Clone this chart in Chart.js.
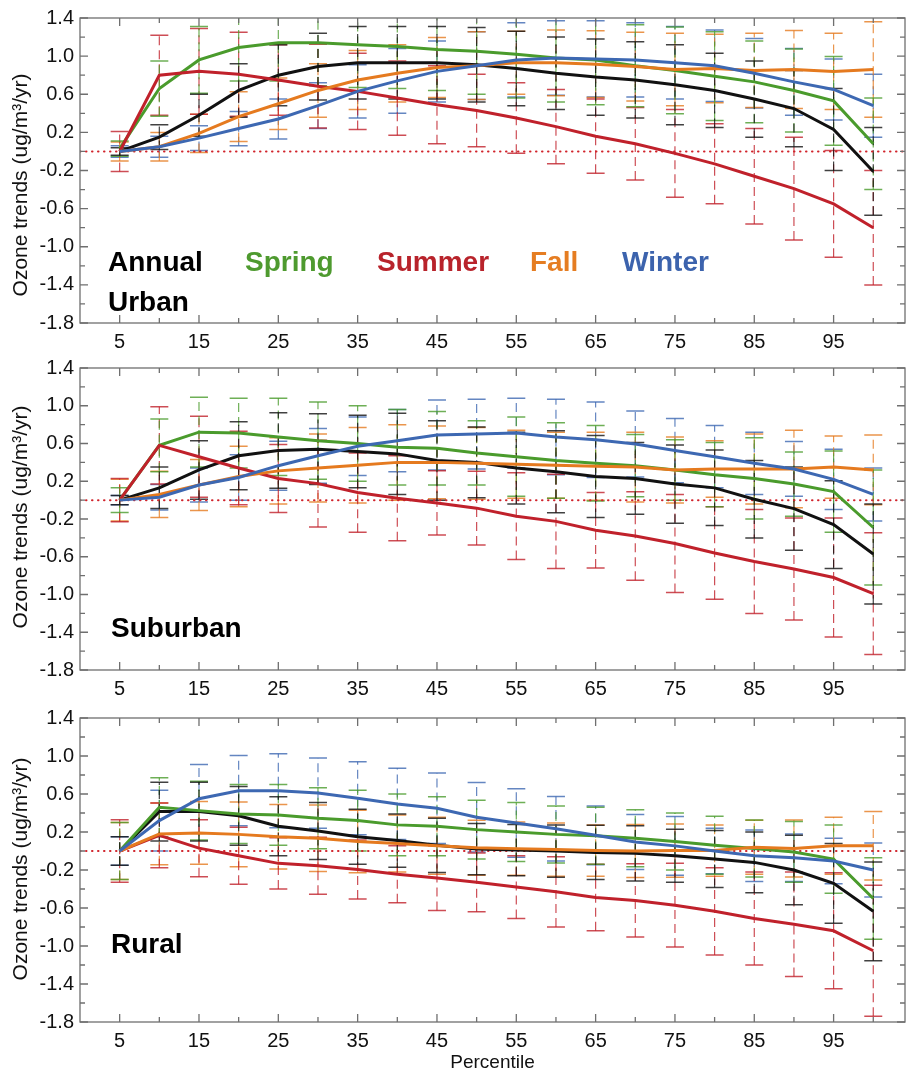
<!DOCTYPE html>
<html>
<head>
<meta charset="utf-8">
<script src="https://cdn.jsdelivr.net/npm/chart.js@4.4.1/dist/chart.umd.min.js"></script>
<style>
  body { margin: 0; background: #ffffff; }
  canvas { display: block; }
</style>
</head>
<body>
<canvas id="urban" width="907" height="350"></canvas>
<canvas id="suburban" width="907" height="350"></canvas>
<canvas id="rural" width="907" height="372"></canvas>
<script>
var percentiles = [5, 10, 15, 20, 25, 30, 35, 40, 45, 50, 55, 60, 65, 70, 75, 80, 85, 90, 95, 100];
var xTicks = [5, 15, 25, 35, 45, 55, 65, 75, 85, 95];
var yTicks = [-1.8, -1.4, -1.0, -0.6, -0.2, 0.2, 0.6, 1.0, 1.4];

// Urban: mean trends and half-length of error bars
var urbanAnnual = [0, 0.15, 0.38, 0.64, 0.80, 0.89, 0.93, 0.93, 0.93, 0.91, 0.87, 0.82, 0.78, 0.75, 0.70, 0.64, 0.55, 0.45, 0.23, -0.21];
var urbanSpring = [0.03, 0.66, 0.96, 1.09, 1.14, 1.14, 1.12, 1.10, 1.07, 1.05, 1.02, 0.98, 0.96, 0.90, 0.85, 0.79, 0.73, 0.64, 0.53, 0.08];
var urbanSummer = [0, 0.80, 0.84, 0.81, 0.75, 0.685, 0.63, 0.56, 0.49, 0.43, 0.35, 0.26, 0.16, 0.08, -0.02, -0.13, -0.26, -0.39, -0.55, -0.80];
var urbanFall = [0, 0.05, 0.19, 0.365, 0.50, 0.64, 0.75, 0.82, 0.88, 0.90, 0.93, 0.93, 0.915, 0.89, 0.86, 0.87, 0.85, 0.86, 0.84, 0.86];
var urbanWinter = [0, 0.05, 0.14, 0.24, 0.34, 0.48, 0.63, 0.74, 0.84, 0.90, 0.96, 0.98, 0.97, 0.96, 0.93, 0.90, 0.82, 0.73, 0.65, 0.48];
var urbanAnnualErr = [0.04, 0.13, 0.22, 0.28, 0.32, 0.35, 0.38, 0.38, 0.38, 0.39, 0.39, 0.38, 0.40, 0.40, 0.42, 0.39, 0.40, 0.40, 0.43, 0.46];
var urbanSpringErr = [0.08, 0.29, 0.35, 0.35, 0.40, 0.45, 0.45, 0.44, 0.43, 0.45, 0.46, 0.46, 0.47, 0.43, 0.455, 0.465, 0.43, 0.435, 0.465, 0.48];
var urbanSummerErr = [0.21, 0.42, 0.45, 0.44, 0.37, 0.44, 0.40, 0.39, 0.41, 0.38, 0.37, 0.39, 0.39, 0.38, 0.46, 0.42, 0.50, 0.54, 0.56, 0.60];
var urbanFallErr = [0.10, 0.15, 0.20, 0.26, 0.27, 0.28, 0.31, 0.30, 0.315, 0.355, 0.33, 0.345, 0.35, 0.36, 0.38, 0.36, 0.39, 0.41, 0.40, 0.50];
var urbanWinterErr = [0.06, 0.11, 0.13, 0.18, 0.21, 0.24, 0.28, 0.34, 0.32, 0.355, 0.39, 0.39, 0.40, 0.39, 0.38, 0.375, 0.365, 0.35, 0.32, 0.33];

// Suburban
var subAnnual = [0, 0.13, 0.32, 0.47, 0.525, 0.54, 0.515, 0.49, 0.42, 0.40, 0.34, 0.30, 0.25, 0.23, 0.17, 0.13, 0.01, -0.09, -0.26, -0.57];
var subSpring = [0, 0.58, 0.72, 0.71, 0.67, 0.63, 0.60, 0.56, 0.55, 0.50, 0.46, 0.42, 0.39, 0.365, 0.32, 0.27, 0.23, 0.17, 0.09, -0.29];
var subSummer = [0, 0.58, 0.46, 0.34, 0.23, 0.175, 0.08, 0.02, -0.03, -0.085, -0.17, -0.225, -0.32, -0.38, -0.46, -0.56, -0.65, -0.73, -0.82, -0.99];
var subFall = [0, 0.06, 0.16, 0.25, 0.31, 0.34, 0.37, 0.40, 0.40, 0.39, 0.38, 0.37, 0.36, 0.35, 0.32, 0.33, 0.33, 0.33, 0.35, 0.32];
var subWinter = [0, 0.03, 0.16, 0.24, 0.365, 0.47, 0.57, 0.63, 0.69, 0.70, 0.71, 0.67, 0.64, 0.595, 0.525, 0.46, 0.39, 0.33, 0.22, 0.06];
var subAnnualErr = [0.05, 0.22, 0.31, 0.36, 0.40, 0.375, 0.385, 0.43, 0.42, 0.375, 0.38, 0.435, 0.435, 0.38, 0.415, 0.40, 0.41, 0.44, 0.465, 0.53];
var subSpringErr = [0.13, 0.28, 0.37, 0.37, 0.41, 0.41, 0.40, 0.40, 0.39, 0.34, 0.42, 0.40, 0.40, 0.33, 0.32, 0.34, 0.43, 0.34, 0.43, 0.61];
var subSummerErr = [0.23, 0.41, 0.43, 0.39, 0.36, 0.46, 0.42, 0.45, 0.34, 0.39, 0.46, 0.50, 0.40, 0.47, 0.52, 0.49, 0.55, 0.54, 0.63, 0.645];
var subFallErr = [0.22, 0.245, 0.27, 0.32, 0.35, 0.36, 0.40, 0.40, 0.385, 0.38, 0.36, 0.35, 0.36, 0.37, 0.35, 0.30, 0.37, 0.41, 0.33, 0.37];
var subWinterErr = [0.05, 0.135, 0.18, 0.24, 0.26, 0.29, 0.31, 0.33, 0.37, 0.37, 0.37, 0.40, 0.40, 0.35, 0.34, 0.33, 0.33, 0.29, 0.32, 0.28];

// Rural
var ruralAnnual = [0, 0.415, 0.415, 0.37, 0.26, 0.21, 0.15, 0.11, 0.06, 0.02, 0.01, 0.0, -0.015, -0.025, -0.05, -0.085, -0.12, -0.20, -0.34, -0.635];
var ruralSpring = [0, 0.46, 0.425, 0.39, 0.38, 0.345, 0.32, 0.275, 0.26, 0.225, 0.20, 0.175, 0.16, 0.135, 0.10, 0.06, 0.026, -0.01, -0.085, -0.50];
var ruralSummer = [0, 0.165, 0.03, -0.05, -0.13, -0.155, -0.195, -0.245, -0.285, -0.33, -0.38, -0.43, -0.49, -0.52, -0.57, -0.635, -0.71, -0.77, -0.84, -1.05];
var ruralFall = [0, 0.18, 0.19, 0.175, 0.15, 0.135, 0.10, 0.08, 0.055, 0.035, 0.025, 0.015, 0.005, 0.0, 0.005, 0.005, 0.04, 0.026, 0.055, 0.055];
var ruralWinter = [0, 0.32, 0.55, 0.635, 0.635, 0.61, 0.555, 0.495, 0.45, 0.355, 0.295, 0.235, 0.165, 0.095, 0.054, 0.0, -0.05, -0.07, -0.105, -0.20];
var ruralAnnualErr = [0.15, 0.31, 0.31, 0.31, 0.31, 0.30, 0.29, 0.28, 0.285, 0.27, 0.27, 0.275, 0.285, 0.29, 0.28, 0.30, 0.32, 0.365, 0.42, 0.52];
var ruralSpringErr = [0.30, 0.31, 0.31, 0.31, 0.32, 0.32, 0.32, 0.325, 0.31, 0.31, 0.31, 0.30, 0.30, 0.30, 0.30, 0.305, 0.30, 0.32, 0.36, 0.43];
var ruralSummerErr = [0.33, 0.34, 0.30, 0.30, 0.27, 0.30, 0.31, 0.30, 0.34, 0.31, 0.33, 0.37, 0.35, 0.385, 0.44, 0.46, 0.49, 0.55, 0.61, 0.69];
var ruralFallErr = [0.30, 0.325, 0.33, 0.34, 0.34, 0.35, 0.33, 0.30, 0.30, 0.29, 0.28, 0.28, 0.27, 0.28, 0.28, 0.27, 0.285, 0.30, 0.30, 0.36];
var ruralWinterErr = [0.15, 0.32, 0.36, 0.37, 0.39, 0.37, 0.385, 0.375, 0.37, 0.365, 0.36, 0.34, 0.31, 0.29, 0.31, 0.24, 0.27, 0.25, 0.24, 0.285];

var FONT = '"Liberation Sans", Arial, Helvetica, sans-serif';
var colAnnual = '#111111';
var colSpring = '#4a9b2c';
var colSummer = '#c0212b';
var colFall = '#e57a1f';
var colWinter = '#3d68b2';

function toPoints(values){
  return values.map(function(v, i){ return {x: percentiles[i], y: v}; });
}

function makeSet(label, values, errs, color){
  return {
    label: label,
    data: toPoints(values),
    err: errs,
    borderColor: color,
    backgroundColor: color,
    borderWidth: 3,
    pointRadius: 0,
    tension: 0,
    fill: false
  };
}

// error bars, zero line, frame, minor ticks and in-plot labels
var panelDecor = {
  id: 'panelDecor',
  beforeDatasetsDraw: function(chart, args, opts){
    var ctx = chart.ctx;
    var area = chart.chartArea;
    var xs = chart.scales.x;
    var ys = chart.scales.y;
    ctx.save();
    ctx.beginPath();
    ctx.rect(area.left, area.top, area.right - area.left, area.bottom - area.top);
    ctx.clip();
    chart.data.datasets.forEach(function(ds){
      ctx.strokeStyle = ds.borderColor;
      ctx.globalAlpha = 0.8;
      ds.data.forEach(function(p, i){
        var px = xs.getPixelForValue(p.x);
        var hi = ys.getPixelForValue(p.y + ds.err[i]);
        var lo = ys.getPixelForValue(p.y - ds.err[i]);
        ctx.lineWidth = 1.2;
        ctx.setLineDash([9, 5]);
        ctx.beginPath();
        ctx.moveTo(px, lo);
        ctx.lineTo(px, hi);
        ctx.stroke();
        ctx.setLineDash([]);
        ctx.lineWidth = 1.5;
        ctx.beginPath();
        ctx.moveTo(px - 9, hi); ctx.lineTo(px + 9, hi);
        ctx.moveTo(px - 9, lo); ctx.lineTo(px + 9, lo);
        ctx.stroke();
      });
    });
    ctx.globalAlpha = 1;
    var y0 = ys.getPixelForValue(0);
    ctx.strokeStyle = '#d1232b';
    ctx.lineWidth = 2;
    ctx.lineCap = 'round';
    ctx.setLineDash([0.5, 5.5]);
    ctx.beginPath();
    ctx.moveTo(area.left, y0);
    ctx.lineTo(area.right, y0);
    ctx.stroke();
    ctx.restore();
  },
  afterDraw: function(chart, args, opts){
    var ctx = chart.ctx;
    var area = chart.chartArea;
    var xs = chart.scales.x;
    var ys = chart.scales.y;
    ctx.save();
    ctx.strokeStyle = '#6f6f6f';
    ctx.lineWidth = 1.3;
    ctx.strokeRect(area.left, area.top, area.right - area.left, area.bottom - area.top);
    ctx.beginPath();
    for (var v = 5; v <= 100; v += 5){
      var px = xs.getPixelForValue(v);
      var len = (v % 10 == 5) ? 8 : 5;
      ctx.moveTo(px, area.bottom); ctx.lineTo(px, area.bottom - len);
      ctx.moveTo(px, area.top); ctx.lineTo(px, area.top + len);
    }
    for (var k = 0; k <= 16; k++){
      var val = -1.8 + k * 0.2;
      var py = ys.getPixelForValue(val);
      var l2 = (k % 2 == 0) ? 8 : 5;
      ctx.moveTo(area.left, py); ctx.lineTo(area.left + l2, py);
      ctx.moveTo(area.right, py); ctx.lineTo(area.right - l2, py);
    }
    ctx.stroke();

    // y axis title
    ctx.translate(21, opts.titleY);
    ctx.rotate(-Math.PI / 2);
    ctx.fillStyle = '#111111';
    ctx.font = '21px ' + FONT;
    ctx.textAlign = 'center';
    ctx.textBaseline = 'middle';
    ctx.fillText('Ozone trends (ug/m\u00B3/yr)', 0, 0);
    ctx.restore();

    ctx.save();
    ctx.font = 'bold 28px ' + FONT;
    ctx.textBaseline = 'alphabetic';
    ctx.textAlign = 'left';
    opts.labels.forEach(function(lb){
      ctx.fillStyle = lb.color;
      ctx.fillText(lb.text, lb.x, lb.y);
    });
    ctx.restore();
  }
};

function makeOptions(cfg){
  return {
    responsive: false,
    animation: false,
    layout: {padding: {left: 0, right: 2, top: cfg.top, bottom: 0}},
    plugins: {
      legend: {display: false},
      tooltip: {enabled: false},
      panelDecor: cfg
    },
    scales: {
      x: {
        type: 'linear',
        min: 0,
        max: 104,
        grid: {display: false, drawTicks: false},
        border: {display: false},
        afterBuildTicks: function(s){ s.ticks = xTicks.map(function(v){ return {value: v}; }); },
        afterFit: function(s){ s.height = cfg.xHeight; },
        ticks: {
          font: {family: FONT, size: 20},
          color: '#111111',
          padding: 7,
          maxRotation: 0,
          autoSkip: false,
          callback: function(v){ return String(v); }
        },
        title: {
          display: cfg.showXTitle,
          text: 'Percentile',
          color: '#111111',
          font: {family: FONT, size: 19, lineHeight: 1},
          padding: {top: 0, bottom: 0}
        }
      },
      y: {
        min: -1.8,
        max: 1.4,
        grid: {display: false, drawTicks: false},
        border: {display: false},
        afterBuildTicks: function(s){ s.ticks = yTicks.map(function(v){ return {value: v}; }); },
        afterFit: function(s){ s.width = 80; },
        ticks: {
          font: {family: FONT, size: 20},
          color: '#111111',
          padding: 6,
          callback: function(v){ return Number(v).toFixed(1); }
        }
      }
    }
  };
}

var urbanChart = new Chart(document.getElementById('urban'), {
  type: 'line',
  data: {datasets: [
    makeSet('Winter', urbanWinter, urbanWinterErr, colWinter),
    makeSet('Fall', urbanFall, urbanFallErr, colFall),
    makeSet('Summer', urbanSummer, urbanSummerErr, colSummer),
    makeSet('Spring', urbanSpring, urbanSpringErr, colSpring),
    makeSet('Annual', urbanAnnual, urbanAnnualErr, colAnnual)
  ]},
  options: makeOptions({
    top: 17, xHeight: 27, showXTitle: false, titleY: 185,
    labels: [
      {text: 'Annual', color: '#000000', x: 108, y: 271},
      {text: 'Spring', color: '#4e9a2f', x: 245, y: 271},
      {text: 'Summer', color: '#b8232b', x: 377, y: 271},
      {text: 'Fall', color: '#e57d22', x: 530, y: 271},
      {text: 'Winter', color: '#3c63ad', x: 622, y: 271},
      {text: 'Urban', color: '#000000', x: 108, y: 311}
    ]
  }),
  plugins: [panelDecor]
});

var suburbanChart = new Chart(document.getElementById('suburban'), {
  type: 'line',
  data: {datasets: [
    makeSet('Winter', subWinter, subWinterErr, colWinter),
    makeSet('Fall', subFall, subFallErr, colFall),
    makeSet('Summer', subSummer, subSummerErr, colSummer),
    makeSet('Spring', subSpring, subSpringErr, colSpring),
    makeSet('Annual', subAnnual, subAnnualErr, colAnnual)
  ]},
  options: makeOptions({
    top: 13, xHeight: 30, showXTitle: false, titleY: 167,
    labels: [
      {text: 'Suburban', color: '#000000', x: 111, y: 287}
    ]
  }),
  plugins: [panelDecor]
});

var ruralChart = new Chart(document.getElementById('rural'), {
  type: 'line',
  data: {datasets: [
    makeSet('Winter', ruralWinter, ruralWinterErr, colWinter),
    makeSet('Fall', ruralFall, ruralFallErr, colFall),
    makeSet('Summer', ruralSummer, ruralSummerErr, colSummer),
    makeSet('Spring', ruralSpring, ruralSpringErr, colSpring),
    makeSet('Annual', ruralAnnual, ruralAnnualErr, colAnnual)
  ]},
  options: makeOptions({
    top: 15, xHeight: 50, showXTitle: true, titleY: 169,
    labels: [
      {text: 'Rural', color: '#000000', x: 111, y: 253}
    ]
  }),
  plugins: [panelDecor]
});
</script>
</body>
</html>
